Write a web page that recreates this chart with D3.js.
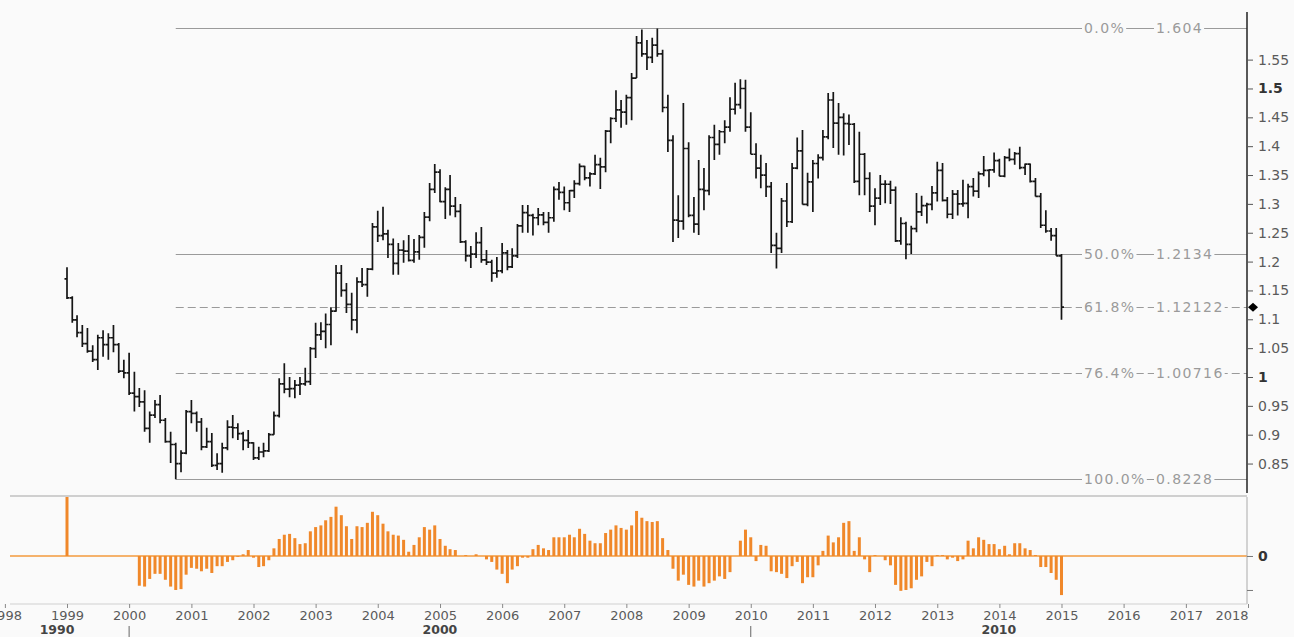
<!DOCTYPE html>
<html>
<head>
<meta charset="utf-8">
<script src="https://cdnjs.cloudflare.com/ajax/libs/d3/7.8.5/d3.min.js"></script>
<style>
  body { margin: 0; background: #fafafa; }
  text { font-family: 'DejaVu Sans', Verdana, sans-serif; }
</style>
</head>
<body>
<div id="chart"></div>
<script>
// monthly bars, Jan 1999 .. Jan 2015 (one row per year)
const opens = [
  1.170,1.137,1.099,1.077,1.058,1.045,1.030,1.068,1.056,1.068,1.056,1.010,
  1.007,0.972,0.966,0.957,0.911,0.934,0.952,0.925,0.888,0.883,0.850,0.868,
  0.940,0.937,0.922,0.879,0.888,0.847,0.850,0.877,0.913,0.912,0.902,0.890,
  0.886,0.860,0.870,0.872,0.900,0.933,0.988,0.979,0.980,0.986,0.988,0.992,
  1.049,1.073,1.079,1.091,1.114,1.180,1.150,1.126,1.099,1.165,1.160,1.187,
  1.260,1.245,1.248,1.230,1.197,1.220,1.218,1.202,1.217,1.242,1.277,1.325,
  1.355,1.304,1.325,1.296,1.287,1.234,1.210,1.213,1.233,1.203,1.199,1.180,
  1.184,1.215,1.191,1.210,1.262,1.285,1.280,1.276,1.281,1.268,1.276,1.325,
  1.320,1.302,1.323,1.335,1.365,1.345,1.352,1.368,1.364,1.426,1.448,1.463,
  1.459,1.484,1.518,1.579,1.560,1.554,1.575,1.560,1.467,1.410,1.272,1.270,
  1.396,1.280,1.265,1.325,1.323,1.415,1.403,1.425,1.433,1.464,1.472,1.500,
  1.433,1.386,1.362,1.350,1.330,1.228,1.223,1.305,1.269,1.362,1.392,1.299,
  1.338,1.370,1.380,1.416,1.480,1.440,1.450,1.439,1.438,1.339,1.386,1.344,
  1.296,1.310,1.334,1.334,1.324,1.236,1.266,1.230,1.257,1.286,1.297,1.299,
  1.319,1.358,1.306,1.282,1.317,1.300,1.301,1.330,1.322,1.352,1.358,1.359,
  1.375,1.348,1.380,1.377,1.387,1.363,1.369,1.339,1.313,1.263,1.253,1.245,
  1.210
];
const highs = [
  1.190,1.140,1.107,1.090,1.085,1.055,1.073,1.081,1.076,1.090,1.059,1.030,
  1.042,1.009,0.981,0.977,0.940,0.960,0.969,0.929,0.905,0.886,0.873,0.943,
  0.960,0.940,0.929,0.912,0.903,0.868,0.886,0.925,0.934,0.920,0.905,0.908,
  0.887,0.879,0.886,0.903,0.940,0.998,1.024,1.000,0.995,1.000,1.016,1.052,
  1.094,1.095,1.110,1.121,1.194,1.194,1.163,1.146,1.173,1.189,1.189,1.267,
  1.288,1.295,1.255,1.240,1.232,1.237,1.246,1.239,1.246,1.286,1.336,1.369,
  1.360,1.329,1.350,1.312,1.300,1.237,1.227,1.251,1.260,1.220,1.203,1.208,
  1.232,1.220,1.223,1.265,1.298,1.298,1.283,1.293,1.286,1.286,1.330,1.338,
  1.330,1.324,1.341,1.370,1.366,1.355,1.385,1.380,1.428,1.450,1.497,1.480,
  1.489,1.527,1.591,1.602,1.584,1.588,1.604,1.567,1.489,1.419,1.315,1.475,
  1.407,1.312,1.376,1.362,1.419,1.437,1.428,1.445,1.485,1.510,1.516,1.515,
  1.459,1.405,1.385,1.371,1.338,1.250,1.310,1.336,1.371,1.415,1.428,1.354,
  1.376,1.386,1.428,1.492,1.494,1.475,1.457,1.455,1.440,1.425,1.388,1.355,
  1.327,1.350,1.341,1.340,1.330,1.277,1.269,1.262,1.319,1.314,1.302,1.331,
  1.373,1.371,1.312,1.324,1.324,1.342,1.335,1.345,1.356,1.383,1.360,1.389,
  1.378,1.383,1.396,1.390,1.399,1.370,1.370,1.345,1.319,1.289,1.258,1.258,
  1.213
];
const lows = [
  1.135,1.094,1.069,1.052,1.042,1.026,1.012,1.035,1.030,1.043,1.007,0.998,
  0.969,0.940,0.948,0.905,0.886,0.929,0.920,0.886,0.851,0.8228,0.835,0.866,
  0.920,0.905,0.873,0.877,0.844,0.839,0.834,0.873,0.894,0.891,0.873,0.877,
  0.856,0.856,0.861,0.870,0.900,0.930,0.972,0.965,0.963,0.969,0.985,0.986,
  1.033,1.064,1.050,1.055,1.113,1.139,1.111,1.081,1.076,1.156,1.139,1.185,
  1.234,1.237,1.206,1.177,1.177,1.198,1.200,1.198,1.203,1.224,1.270,1.319,
  1.303,1.274,1.280,1.277,1.232,1.200,1.189,1.206,1.198,1.194,1.165,1.172,
  1.180,1.185,1.189,1.206,1.250,1.250,1.245,1.263,1.263,1.250,1.269,1.307,
  1.289,1.286,1.310,1.332,1.341,1.330,1.350,1.326,1.355,1.405,1.442,1.432,
  1.437,1.445,1.518,1.555,1.532,1.544,1.555,1.459,1.390,1.234,1.241,1.255,
  1.277,1.250,1.246,1.289,1.315,1.376,1.385,1.405,1.425,1.455,1.465,1.425,
  1.386,1.344,1.327,1.312,1.215,1.188,1.215,1.260,1.267,1.360,1.299,1.296,
  1.286,1.344,1.375,1.412,1.397,1.385,1.384,1.402,1.336,1.315,1.315,1.286,
  1.263,1.298,1.301,1.300,1.234,1.229,1.204,1.213,1.251,1.279,1.266,1.289,
  1.304,1.304,1.275,1.274,1.280,1.295,1.275,1.313,1.310,1.348,1.329,1.354,
  1.348,1.346,1.374,1.368,1.360,1.350,1.337,1.313,1.258,1.250,1.236,1.210,
  1.099
];
const closes = [
  1.137,1.099,1.077,1.058,1.045,1.030,1.068,1.056,1.068,1.056,1.010,1.007,
  0.972,0.966,0.957,0.911,0.934,0.952,0.925,0.888,0.883,0.850,0.868,0.940,
  0.937,0.922,0.879,0.888,0.847,0.850,0.877,0.913,0.912,0.902,0.890,0.886,
  0.860,0.870,0.872,0.900,0.933,0.988,0.979,0.980,0.986,0.988,0.992,1.049,
  1.073,1.079,1.091,1.114,1.180,1.150,1.126,1.099,1.165,1.160,1.187,1.260,
  1.245,1.248,1.230,1.197,1.220,1.218,1.202,1.217,1.242,1.277,1.325,1.355,
  1.304,1.325,1.296,1.287,1.234,1.210,1.213,1.233,1.203,1.199,1.180,1.184,
  1.215,1.191,1.210,1.262,1.285,1.280,1.276,1.281,1.268,1.276,1.325,1.320,
  1.302,1.323,1.335,1.365,1.345,1.352,1.368,1.364,1.426,1.448,1.463,1.459,
  1.484,1.518,1.579,1.560,1.554,1.575,1.560,1.467,1.410,1.272,1.270,1.396,
  1.280,1.265,1.325,1.323,1.415,1.403,1.425,1.433,1.464,1.472,1.500,1.433,
  1.386,1.362,1.350,1.330,1.228,1.223,1.305,1.269,1.362,1.392,1.299,1.338,
  1.370,1.380,1.416,1.480,1.440,1.450,1.439,1.438,1.339,1.386,1.344,1.296,
  1.310,1.334,1.334,1.324,1.236,1.266,1.230,1.257,1.286,1.297,1.299,1.319,
  1.358,1.306,1.282,1.317,1.300,1.301,1.330,1.322,1.352,1.358,1.359,1.375,
  1.348,1.380,1.377,1.387,1.363,1.369,1.339,1.313,1.263,1.253,1.245,1.210,
  1.121
];
// lower panel histogram, same months
const hist = [
  0.250,0,0,0,0,0,0,0,0,0,0,0,
  0,0,-0.035,-0.036,-0.027,-0.021,-0.021,-0.028,-0.036,-0.040,-0.039,-0.022,
  -0.014,-0.015,-0.018,-0.015,-0.020,-0.012,-0.012,-0.007,-0.005,-0.001,0.002,0.007,
  -0.002,-0.013,-0.012,-0.005,0.009,0.020,0.025,0.026,0.021,0.014,0.015,0.029,
  0.034,0.036,0.042,0.046,0.058,0.048,0.035,0.020,0.035,0.034,0.039,0.052,
  0.048,0.038,0.029,0.025,0.024,0.019,0.005,0.013,0.022,0.034,0.031,0.036,
  0.020,0.012,0.008,0.007,0,0.001,0,0.002,0,-0.004,-0.007,-0.016,
  -0.021,-0.032,-0.016,-0.012,-0.002,-0.002,0.008,0.013,0.009,0.007,0.022,0.022,
  0.022,0.025,0.022,0.032,0.026,0.018,0.015,0.015,0.027,0.031,0.036,0.033,
  0.031,0.036,0.053,0.045,0.041,0.040,0.041,0.021,0.007,-0.015,-0.029,-0.022,
  -0.034,-0.036,-0.029,-0.036,-0.032,-0.029,-0.024,-0.027,-0.019,0,0.018,0.031,
  0.022,-0.006,0.013,0.012,-0.018,-0.019,-0.021,-0.026,-0.012,-0.007,-0.032,-0.025,
  -0.025,-0.011,0.006,0.024,0.016,0.022,0.039,0.041,0.006,0.022,-0.004,-0.019,
  0.001,0,-0.005,-0.011,-0.034,-0.041,-0.040,-0.038,-0.028,-0.024,-0.007,-0.012,
  0.001,0.001,-0.004,-0.002,-0.006,-0.004,0.018,0.009,0.022,0.019,0.014,0.014,
  0.008,0.012,0.002,0.015,0.015,0.009,0.007,0.001,-0.013,-0.013,-0.020,-0.028,
  -0.046
];

const priceTicks = [0.85, 0.9, 0.95, 1, 1.05, 1.1, 1.15, 1.2, 1.25, 1.3, 1.35, 1.4, 1.45, 1.5, 1.55];
const boldTicks = [1, 1.5];
const yearTicks = d3.range(1998, 2019);
const decades = [1990, 2000, 2010];

const fibPct = ['0.0%', '50.0%', '61.8%', '76.4%', '100.0%'];
const fibPrice = ['1.604', '1.2134', '1.12122', '1.00716', '0.8228'];
const fibDashed = [false, false, true, true, false];
const fibStartIndex = 21; // Oct 2000 low

const width = 1294, height = 637,
      axisX = 1247, plotLeft = 10;

const months = d3.timeMonth.range(new Date(1999, 0, 1), new Date(2015, 1, 1));
const bars = months.map((m, i) => ({ date: m, o: opens[i], h: highs[i], l: lows[i], c: closes[i], v: hist[i] }));

const svg = d3.select('#chart').append('svg')
      .attr('width', width)
      .attr('height', height);

const x = d3.scaleTime()
      .domain([new Date(1999, 0, 1), new Date(2018, 0, 1)])
      .range([67, 1248]);
const y = d3.scaleLinear().domain([0.8, 1.636]).range([492.4, 10]);
const yh = d3.scaleLinear().domain([-0.0565, 0.0694]).range([604, 497]);

const labelColor = '#5a5a5a', fibColor = '#9a9a9a';

// fibonacci levels
const fib = svg.append('g');
fibPrice.forEach((p, i) => {
  const yy = Math.round(y(+p)) + 0.5;
  fib.append('line')
      .attr('x1', x(months[fibStartIndex])).attr('x2', axisX)
      .attr('y1', yy).attr('y2', yy)
      .style('stroke', fibColor)
      .style('stroke-width', 1.2)
      .style('stroke-dasharray', fibDashed[i] ? '8,4' : null);

  const t1 = fib.append('text')
      .attr('x', 1084).attr('y', yy)
      .attr('dy', '0.35em')
      .style('font-size', '14px').style('letter-spacing', '1.4px')
      .style('fill', fibColor)
      .text(fibPct[i]);
  const w1 = t1.node().getComputedTextLength();
  const px = Math.max(1156, 1084 + w1 + 6);
  const t2 = fib.append('text')
      .attr('x', px).attr('y', yy)
      .attr('dy', '0.35em')
      .style('font-size', '14px').style('letter-spacing', '1.4px')
      .style('fill', fibColor)
      .text(fibPrice[i]);
  const w2 = t2.node().getComputedTextLength();
  fib.insert('rect', () => t1.node())
      .attr('x', 1082).attr('y', yy - 8).attr('width', w1 + 3).attr('height', 16)
      .style('fill', '#fafafa');
  fib.insert('rect', () => t2.node())
      .attr('x', px - 2).attr('y', yy - 8).attr('width', w2 + 3).attr('height', 16)
      .style('fill', '#fafafa');
});

// OHLC bars
const ohlc = svg.append('g')
      .style('stroke', '#151515')
      .style('stroke-width', 1.7);
ohlc.selectAll('path')
    .data(bars)
  .enter().append('path')
    .attr('d', d => {
      const cx = x(d.date);
      return 'M' + cx + ',' + y(d.h) + 'V' + y(d.l) +
             'M' + (cx - 2.5) + ',' + y(d.o) + 'H' + cx +
             'M' + cx + ',' + y(d.c) + 'H' + (cx + 2.5);
    })
    .style('fill', 'none');

// right price axis
const yAxis = svg.append('g')
      .attr('transform', 'translate(' + axisX + ',0)')
      .call(d3.axisRight(y).tickValues(priceTicks).tickSize(6).tickPadding(5)
            .tickFormat(d => String(+d.toFixed(2))));
yAxis.select('.domain').style('stroke', '#222').style('stroke-width', 1.5)
      .attr('d', 'M0,12V493');
yAxis.selectAll('.tick line').style('stroke', '#555');
yAxis.selectAll('.tick text')
      .style('font-size', '14px')
      .style('font-family', "'DejaVu Sans', Verdana, sans-serif")
      .style('fill', d => boldTicks.includes(d) ? '#333' : labelColor)
      .style('font-weight', d => boldTicks.includes(d) ? 'bold' : 'normal');

// last price marker
svg.append('path')
    .attr('transform', 'translate(' + (axisX + 6) + ',' + y(closes[closes.length - 1]) + ')')
    .attr('d', 'M-5,0L0,-4.5L5,0L0,4.5Z')
    .style('fill', '#000');

// separator between panels
svg.append('line')
    .attr('x1', plotLeft).attr('x2', axisX)
    .attr('y1', 496).attr('y2', 496)
    .style('stroke', '#cfcfcf').style('stroke-width', 2);

// lower panel
svg.append('clipPath').attr('id', 'lowclip')
  .append('rect').attr('x', 0).attr('y', 497).attr('width', axisX).attr('height', 107);

const low = svg.append('g').attr('clip-path', 'url(#lowclip)');
low.append('line')
    .attr('x1', plotLeft).attr('x2', axisX)
    .attr('y1', yh(0)).attr('y2', yh(0))
    .style('stroke', '#f39a3c').style('stroke-width', 1.5);
low.selectAll('rect')
    .data(bars.filter(d => d.v !== 0))
  .enter().append('rect')
    .attr('x', d => x(d.date) - 1.5)
    .attr('width', 3)
    .attr('y', d => Math.min(yh(d.v), yh(0)))
    .attr('height', d => Math.abs(yh(d.v) - yh(0)))
    .style('fill', '#f0882a');

const hAxis = svg.append('g')
      .attr('transform', 'translate(' + axisX + ',0)')
      .call(d3.axisRight(yh).tickValues([-0.04, 0]).tickSize(6).tickPadding(5)
            .tickFormat(d => d === 0 ? '0' : ''));
hAxis.select('.domain').style('stroke', '#aaa').attr('d', 'M0,497V604');
hAxis.selectAll('.tick line').style('stroke', '#777');
hAxis.selectAll('.tick text')
      .style('font-size', '14px').style('font-weight', 'bold').style('fill', '#333')
      .style('font-family', "'DejaVu Sans', Verdana, sans-serif");

// time axis
const xAxis = svg.append('g')
      .attr('transform', 'translate(0,604)')
      .call(d3.axisBottom(x)
            .tickValues(yearTicks.map(yr => new Date(yr, 0, 1)))
            .tickSize(4).tickPadding(3)
            .tickFormat(d3.timeFormat('%Y')));
xAxis.select('.domain').style('stroke', '#d0d0d0').attr('d', 'M' + plotLeft + ',0H' + axisX);
xAxis.selectAll('.tick line').style('stroke', '#888');
xAxis.selectAll('.tick text')
      .style('font-size', '13px')
      .style('font-family', "'DejaVu Sans', Verdana, sans-serif")
      .style('fill', labelColor)
      .attr('text-anchor', (d, i) => i === yearTicks.length - 1 ? 'end' : 'middle');

const dec = svg.append('g');
decades.forEach(dy => {
  const a = Math.max(x(new Date(dy, 0, 1)), -15),
        b = Math.min(x(new Date(dy + 10, 0, 1)), axisX);
  dec.append('text')
      .attr('x', (a + b) / 2).attr('y', 634)
      .attr('text-anchor', 'middle')
      .style('font-size', '12.5px').style('font-weight', 'bold')
      .style('fill', '#444')
      .text(dy);
  if (x(new Date(dy, 0, 1)) > 0) {
    dec.append('line')
        .attr('x1', x(new Date(dy, 0, 1))).attr('x2', x(new Date(dy, 0, 1)))
        .attr('y1', 626).attr('y2', 637)
        .style('stroke', '#666');
  }
});
</script>
</body>
</html>
